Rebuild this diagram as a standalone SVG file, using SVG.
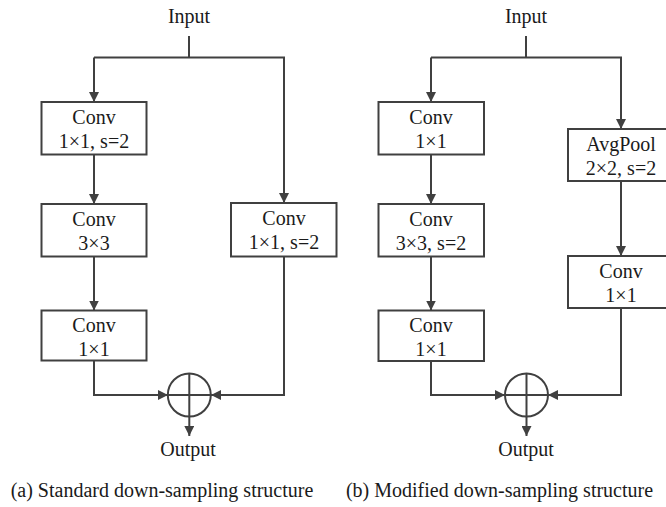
<svg xmlns="http://www.w3.org/2000/svg" width="666" height="507" viewBox="0 0 666 507">
<style>
.box{fill:#fff;stroke:#404040;stroke-width:2}
.ln{fill:none;stroke:#404040;stroke-width:2}
.arr{fill:none;stroke:#404040;stroke-width:2;marker-end:url(#ah)}
text{font-family:"Liberation Serif","Times New Roman",serif;font-size:20px;fill:#1a1a1a}
.c{text-anchor:middle}
</style>
<defs>
<marker id="ah" markerUnits="userSpaceOnUse" markerWidth="10" markerHeight="10" refX="10" refY="5" orient="auto">
<path d="M0,0 L10,5 L0,10 z" fill="#404040"/>
</marker>
</defs>
<g id="connectors">
<path class="ln" d="M189,36 V57.5"/>
<path class="arr" d="M94,57.5 V102"/>
<path class="arr" d="M94,57.5 H284 V203"/>
<path class="arr" d="M94,154.5 V204"/>
<path class="arr" d="M94,256 V310.5"/>
<path class="arr" d="M94,360.5 V395 H168"/>
<path class="arr" d="M284,256.5 V395 H211"/>
<path class="arr" d="M189.3,416.5 V436"/>
<path class="ln" d="M526,36 V57.5"/>
<path class="arr" d="M431,57.5 V102"/>
<path class="arr" d="M431,57.5 H621 V129"/>
<path class="arr" d="M431,154.5 V204"/>
<path class="arr" d="M431,256.5 V310.5"/>
<path class="arr" d="M431,361 V395 H505"/>
<path class="arr" d="M621,181 V256"/>
<path class="arr" d="M621,308 V395 H548"/>
<path class="arr" d="M526.5,416.5 V436"/>
</g>
<g id="a-input"><text class="c" x="189" y="23">Input</text></g>
<g id="a-conv1"><rect class="box" x="41.5" y="102" width="105" height="52.5"/><text class="c" x="94" y="124">Conv</text><text class="c" x="94" y="148">1×1, s=2</text></g>
<g id="a-conv2"><rect class="box" x="41.5" y="204" width="105" height="52.5"/><text class="c" x="94" y="226">Conv</text><text class="c" x="94" y="250">3×3</text></g>
<g id="a-conv3"><rect class="box" x="41.5" y="310.5" width="105" height="50"/><text class="c" x="94" y="332">Conv</text><text class="c" x="94" y="356">1×1</text></g>
<g id="a-conv4"><rect class="box" x="231" y="203" width="105.5" height="53.5"/><text class="c" x="284" y="225">Conv</text><text class="c" x="284" y="249">1×1, s=2</text></g>
<g id="a-sum"><circle class="ln" cx="189.3" cy="395" r="21.5"/><path class="ln" d="M167.8,395 H210.8 M189.3,373.5 V416.5"/></g>
<g id="a-output"><text class="c" x="188" y="456">Output</text></g>
<g id="a-caption"><text class="c" x="162" y="497">(a) Standard down-sampling structure</text></g>
<g id="b-input"><text class="c" x="526" y="23">Input</text></g>
<g id="b-conv1"><rect class="box" x="378.5" y="102" width="105.5" height="52.5"/><text class="c" x="431" y="124">Conv</text><text class="c" x="431" y="148">1×1</text></g>
<g id="b-conv2"><rect class="box" x="378.5" y="204" width="105.5" height="52.5"/><text class="c" x="431" y="226">Conv</text><text class="c" x="431" y="250">3×3, s=2</text></g>
<g id="b-conv3"><rect class="box" x="378.5" y="310.5" width="105.5" height="50.5"/><text class="c" x="431" y="332">Conv</text><text class="c" x="431" y="356">1×1</text></g>
<g id="b-pool"><rect class="box" x="568" y="129" width="105" height="52"/><text class="c" x="621" y="151">AvgPool</text><text class="c" x="621" y="175">2×2, s=2</text></g>
<g id="b-conv4"><rect class="box" x="568" y="256" width="105" height="52"/><text class="c" x="621" y="278">Conv</text><text class="c" x="621" y="302">1×1</text></g>
<g id="b-sum"><circle class="ln" cx="526.5" cy="395" r="21.5"/><path class="ln" d="M505,395 H548 M526.5,373.5 V416.5"/></g>
<g id="b-output"><text class="c" x="526" y="456">Output</text></g>
<g id="b-caption"><text class="c" x="499.5" y="497">(b) Modified down-sampling structure</text></g>
</svg>
